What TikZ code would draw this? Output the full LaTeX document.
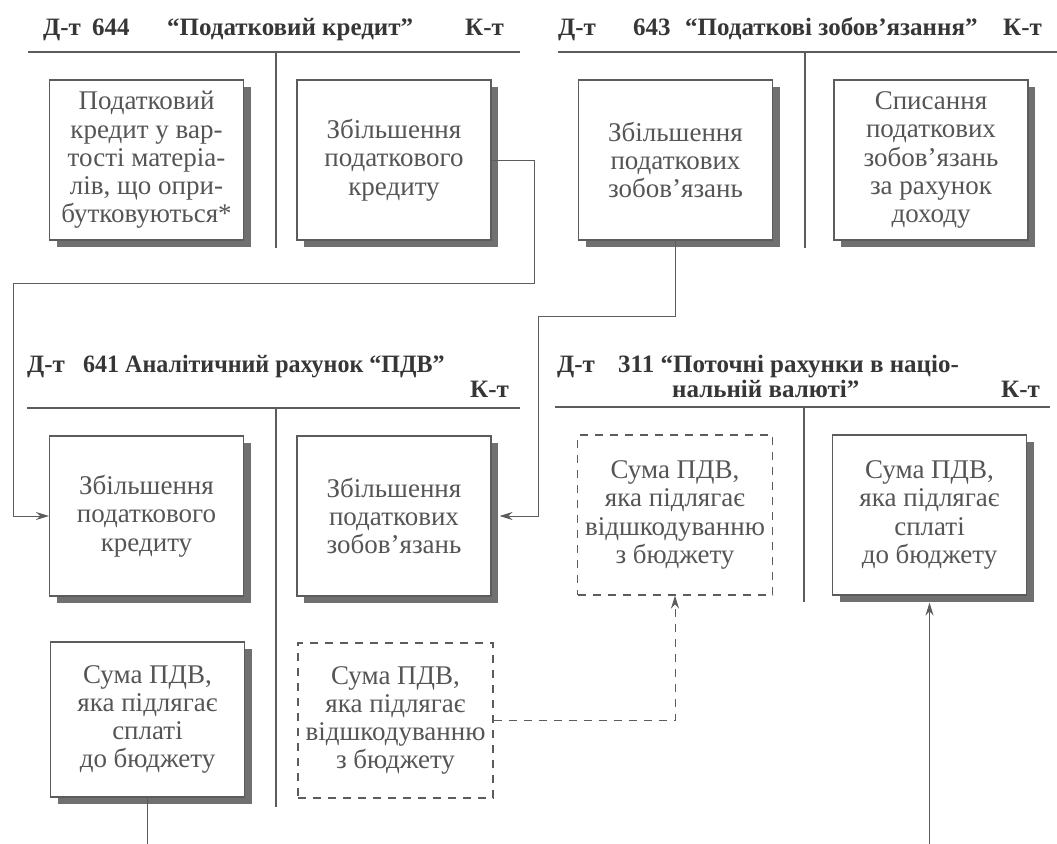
\documentclass[tikz,border=0pt]{standalone}
\usepackage{fontspec}
\setmainfont{Liberation Serif}
\usetikzlibrary{arrows.meta,shadows}
\definecolor{ink}{HTML}{555555}
\definecolor{head}{HTML}{363636}
\definecolor{rule}{HTML}{5C5C5C}
\definecolor{shade}{HTML}{707070}

\begin{document}
\begin{tikzpicture}[x=1pt,y=-1pt,
  boxtext/.style={text=ink, align=center, inner sep=0pt,
    font=\fontsize{27}{28.3}\selectfont},
  entry/.style={boxtext, draw=rule, line width=1.1pt, fill=white,
    minimum width=194pt, minimum height=160pt,
    drop shadow={shadow xshift=7pt, shadow yshift=-7pt, fill=shade, opacity=1}},
  pending/.style={boxtext, draw=rule, line width=1.1pt, dash pattern=on 8pt off 7pt,
    minimum width=195pt, minimum height=160pt},
  heading/.style={text=head, inner sep=0pt, anchor=base west,
    font=\fontsize{25}{27}\selectfont\bfseries},
  ledger/.style={draw=rule, line width=1.4pt},
  flow/.style={draw=rule, line width=1pt, -{Stealth[length=13pt,width=8pt]}},
]
\useasboundingbox (0,0) rectangle (1057,843);
\clip (0,0) rectangle (1057,843);

% --- account 644 ---
\node[heading] (h644a) at (43,36) {Д-т\hspace{0.45em}644};
\node[heading] (h644b) at (167,36) {“Податковий кредит”};
\node[heading] (h644c) at (465,36) {К-т};
\draw[ledger] (28,52) -- (520,52) (276,52) -- (276,248);
\node[entry] (A1) at (146.5,160) {Податковий\\кредит у вар-\\тості матеріа-\\лів, що опри-\\бутковуються*};
\node[entry] (A2) at (394,160) {Збільшення\\податкового\\кредиту};

% --- account 643 ---
\node[heading] (h643a) at (558,36) {Д-т};
\node[heading] (h643b) at (633,36) {643};
\node[heading] (h643c) at (685,36) {“Податкові зобов’язання”};
\node[heading] (h643d) at (1003,36) {К-т};
\draw[ledger] (558,52) -- (1057,52) (805,52) -- (805,248);
\node[entry] (B1) at (675.5,160) {Збільшення\\податкових\\зобов’язань};
\node[entry] (B2) at (931,160) {Списання\\податкових\\зобов’язань\\за рахунок\\доходу};

% --- account 641 ---
\node[heading] (h641a) at (27,372) {Д-т};
\node[heading, xscale=0.96] (h641b) at (83,372) {641 Аналітичний рахунок “ПДВ”};
\node[heading] (h641c) at (470,397) {К-т};
\draw[ledger] (27,408) -- (520,408) (276,408) -- (276,807);
\node[entry] (C1) at (146.5,516) {Збільшення\\податкового\\кредиту};
\node[entry] (C2) at (394,516) {Збільшення\\податкових\\зобов’язань};
\node[entry, minimum height=155pt] (C3) at (147.5,719.5) {Сума ПДВ,\\яка підлягає\\сплаті\\до бюджету};
\node[pending, minimum height=155pt] (C4) at (395.5,720.5) {Сума ПДВ,\\яка підлягає\\відшкодуванню\\з бюджету};

% --- account 311 ---
\node[heading] (h311a) at (557,372) {Д-т};
\node[heading] (h311b) at (618,372) {311 “Поточні рахунки в націо-};
\node[heading] (h311c) at (672,397) {нальній валюті”};
\node[heading] (h311d) at (1001,397) {К-т};
\draw[ledger] (555,407) -- (1050,407) (804,407) -- (804,602);
\node[pending] (D1) at (675,515) {Сума ПДВ,\\яка підлягає\\відшкодуванню\\з бюджету};
\node[entry] (D2) at (929.5,515) {Сума ПДВ,\\яка підлягає\\сплаті\\до бюджету};

% --- connectors ---
\coordinate (j1) at (534,283);
\coordinate (j2) at (13,283);
\coordinate (j3) at (538,316);
\draw[flow] (A2.east) -| (j1) -- (j2) |- (C1.west);
\draw[flow] (B1.south) |- (j3) |- ([xshift=8pt]C2.east);
\draw[flow, dash pattern=on 8pt off 7pt] (C4.east) -| (D1.south);
\draw[flow] (C3.south) -- ++(0,80) -| ([yshift=-7pt]D2.south);
\end{tikzpicture}
\end{document}
